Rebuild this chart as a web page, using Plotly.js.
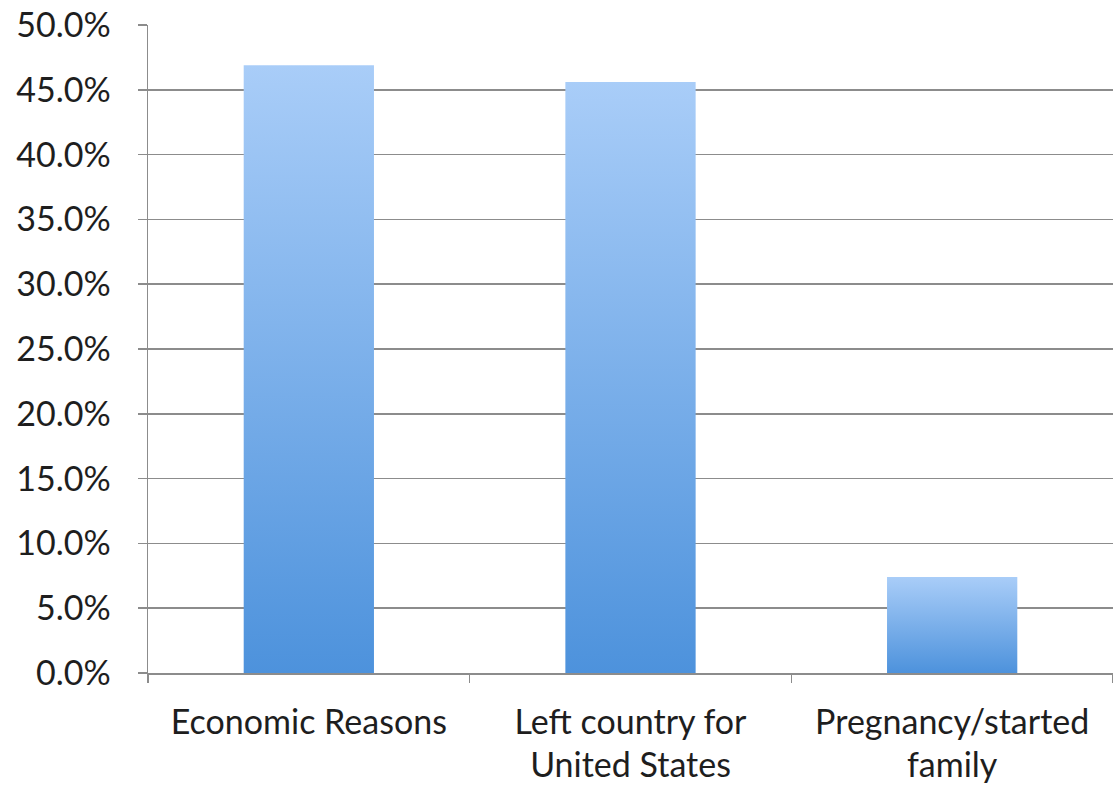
<!DOCTYPE html>
<html>
<head>
<meta charset="utf-8">
<script src="https://cdn.plot.ly/plotly-3.0.1.min.js"></script>
<style>html,body{margin:0;padding:0;background:#fff;}#chart{width:1113px;height:790px;}</style>
</head>
<body>
<div id="chart"></div>
<script>
const categories = ["Economic Reasons", "Left country for<br>United States", "Pregnancy/started<br>family"];
const values = [46.9, 45.6, 7.4];
const yTicks = [0, 5, 10, 15, 20, 25, 30, 35, 40, 45, 50];

const trace = {
  type: 'bar',
  x: categories,
  y: values,
  width: 0.405,
  marker: {color: '#6fa6e6', line: {width: 0}},
  hoverinfo: 'skip'
};

const layout = {
  width: 1113,
  height: 790,
  margin: {l: 148, r: 0, t: 25, b: 117},
  paper_bgcolor: '#ffffff',
  plot_bgcolor: '#ffffff',
  showlegend: false,
  font: {family: 'Lato, "Open Sans", sans-serif', size: 34, color: '#1e1e1e'},
  xaxis: {
    type: 'category',
    showline: true,
    linecolor: '#8c8c8c',
    linewidth: 1.5,
    ticks: 'outside',
    tickson: 'boundaries',
    ticklen: 8,
    tickcolor: '#8c8c8c',
    tickwidth: 1.5,
    ticklabelstandoff: 19,
    showgrid: false,
    zeroline: false,
    tickfont: {size: 34}
  },
  yaxis: {
    range: [0, 50],
    tickvals: yTicks,
    ticktext: yTicks.map(v => v.toFixed(1) + '%'),
    showgrid: true,
    gridcolor: '#8c8c8c',
    gridwidth: 1.5,
    showline: true,
    linecolor: '#8c8c8c',
    linewidth: 1.5,
    ticks: 'outside',
    ticklen: 9,
    tickcolor: '#8c8c8c',
    tickwidth: 1.5,
    ticklabelstandoff: 20,
    zeroline: false,
    tickfont: {size: 34}
  }
};

Plotly.newPlot('chart', [trace], layout, {displayModeBar: false, staticPlot: true}).then(function(gd){
  const svg = gd.querySelector('svg.main-svg');
  const ns = 'http://www.w3.org/2000/svg';
  let defs = svg.querySelector('defs');
  if (!defs) { defs = document.createElementNS(ns, 'defs'); svg.insertBefore(defs, svg.firstChild); }
  const grad = document.createElementNS(ns, 'linearGradient');
  grad.setAttribute('id', 'barGrad');
  grad.setAttribute('x1', '0'); grad.setAttribute('y1', '0');
  grad.setAttribute('x2', '0'); grad.setAttribute('y2', '1');
  [['0%', '#a9cdf8'], ['100%', '#4d92dc']].forEach(function(s){
    const st = document.createElementNS(ns, 'stop');
    st.setAttribute('offset', s[0]);
    st.setAttribute('stop-color', s[1]);
    grad.appendChild(st);
  });
  defs.appendChild(grad);
  gd.querySelectorAll('.bars .point path').forEach(function(p){
    p.style.fill = 'url(#barGrad)';
  });
  gd.querySelectorAll('.xtick text tspan.line').forEach(function(t){
    if (t.getAttribute('dy') && t.getAttribute('dy') !== '0em') {
      t.setAttribute('dy', '1.26em');
    }
  });
});
</script>
</body>
</html>
